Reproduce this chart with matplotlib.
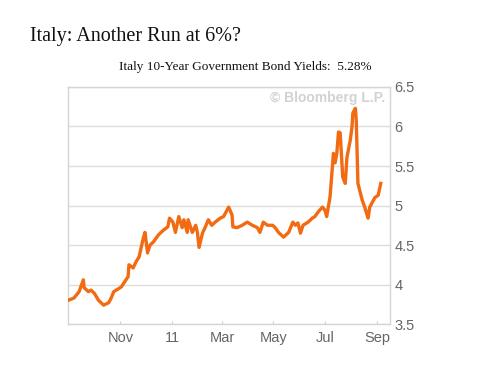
import matplotlib
matplotlib.use("Agg")
import matplotlib.pyplot as plt
import pandas as pd

title = "Italy: Another Run at 6%?"
subtitle = "Italy 10-Year Government Bond Yields:  5.28%"
watermark = "© Bloomberg L.P."

dates = [
    "2010-08-31", "2010-09-07", "2010-09-13", "2010-09-18", "2010-09-19", "2010-09-24",
    "2010-09-27", "2010-10-01", "2010-10-06", "2010-10-12", "2010-10-18", "2010-10-21",
    "2010-10-24", "2010-10-27", "2010-11-02", "2010-11-05", "2010-11-10", "2010-11-11",
    "2010-11-16", "2010-11-19", "2010-11-23", "2010-11-28", "2010-11-30", "2010-12-03",
    "2010-12-06", "2010-12-10", "2010-12-16", "2010-12-22", "2010-12-27", "2010-12-29",
    "2011-01-02", "2011-01-05", "2011-01-09", "2011-01-13", "2011-01-15", "2011-01-19",
    "2011-01-20", "2011-01-25", "2011-01-29", "2011-01-31", "2011-02-02", "2011-02-06",
    "2011-02-09", "2011-02-13", "2011-02-17", "2011-02-21", "2011-02-27", "2011-03-03",
    "2011-03-09", "2011-03-13", "2011-03-14", "2011-03-19", "2011-03-25", "2011-03-31",
    "2011-04-06", "2011-04-12", "2011-04-15", "2011-04-19", "2011-04-24", "2011-04-30",
    "2011-05-03", "2011-05-07", "2011-05-13", "2011-05-19", "2011-05-24", "2011-05-27",
    "2011-05-30", "2011-06-02", "2011-06-05", "2011-06-11", "2011-06-16", "2011-06-19",
    "2011-06-23", "2011-06-28", "2011-07-01", "2011-07-03", "2011-07-07", "2011-07-11",
    "2011-07-13", "2011-07-15", "2011-07-17", "2011-07-19", "2011-07-22", "2011-07-25",
    "2011-07-27", "2011-07-31", "2011-08-02", "2011-08-03", "2011-08-06", "2011-08-07",
    "2011-08-09", "2011-08-14", "2011-08-17", "2011-08-21", "2011-08-23", "2011-08-29",
    "2011-09-02", "2011-09-05",
]
yields = [
    3.80, 3.83, 3.91, 4.06, 3.96, 3.91,
    3.93, 3.89, 3.80, 3.74, 3.77, 3.83,
    3.91, 3.93, 3.97, 4.02, 4.10, 4.25,
    4.21, 4.28, 4.35, 4.59, 4.66, 4.40,
    4.50, 4.54, 4.63, 4.69, 4.73, 4.84,
    4.79, 4.66, 4.86, 4.72, 4.82, 4.66,
    4.82, 4.66, 4.75, 4.66, 4.47, 4.65,
    4.72, 4.82, 4.75, 4.79, 4.84, 4.86,
    4.98, 4.88, 4.73, 4.72, 4.75, 4.79,
    4.75, 4.72, 4.66, 4.79, 4.75, 4.75,
    4.72, 4.66, 4.60, 4.66, 4.79, 4.75,
    4.78, 4.65, 4.75, 4.79, 4.84, 4.86,
    4.92, 4.98, 4.94, 4.86, 5.11, 5.66,
    5.54, 5.66, 5.93, 5.92, 5.36, 5.28,
    5.61, 5.83, 6.00, 6.17, 6.23, 6.08,
    5.28, 5.07, 4.98, 4.84, 4.98, 5.10,
    5.13, 5.28,
]
y_ticks = [3.5, 4, 4.5, 5, 5.5, 6, 6.5]
y_tick_labels = ["3.5", "4", "4.5", "5", "5.5", "6", "6.5"]
x_ticks = ["2010-11-01", "2011-01-01", "2011-03-01", "2011-05-01", "2011-07-01", "2011-09-01"]
x_tick_labels = ["Nov", "11", "Mar", "May", "Jul", "Sep"]

d = pd.to_datetime(dates)

fig = plt.figure(figsize=(4.9, 3.67), dpi=100)
fig.patch.set_facecolor("white")
ax = fig.add_axes([0.139, 0.117, 0.657, 0.646])

ax.plot(d, yields, color="#F26A12", lw=2.4, solid_joinstyle="round", zorder=3)

ax.set_ylim(3.5, 6.5)
ax.set_xlim(pd.Timestamp("2010-08-31"), pd.Timestamp("2011-09-16"))
ax.set_yticks(y_ticks)
ax.set_yticklabels(y_tick_labels)
ax.yaxis.tick_right()
ax.set_xticks(pd.to_datetime(x_ticks))
ax.set_xticklabels(x_tick_labels)

ax.grid(axis="y", color="#dcdcdc", lw=1)
ax.set_axisbelow(True)
for s in ax.spines.values():
    s.set_color("#d5d5d5")
    s.set_linewidth(1)

ax.tick_params(axis="y", length=0, pad=3, labelsize=10.5, labelcolor="#666666",
               labelfontfamily="Liberation Sans")
ax.tick_params(axis="x", direction="in", length=2, color="#cccccc", pad=5,
               labelsize=10.5, labelcolor="#666666", labelfontfamily="Liberation Sans")

ax.text(0.985, 0.955, watermark, transform=ax.transAxes, ha="right", va="center",
        fontsize=10, color="#d2d2d2", family="Liberation Sans", fontweight="bold")

fig.text(30 / 490, 1 - 36 / 367, title, ha="left", va="center",
         fontsize=14.5, family="Liberation Serif", color="#111111")
fig.text(245 / 490, 1 - 67 / 367, subtitle, ha="center", va="center",
         fontsize=9.5, family="Liberation Serif", color="#111111")

fig.savefig("out.png", dpi=100, facecolor="white")
